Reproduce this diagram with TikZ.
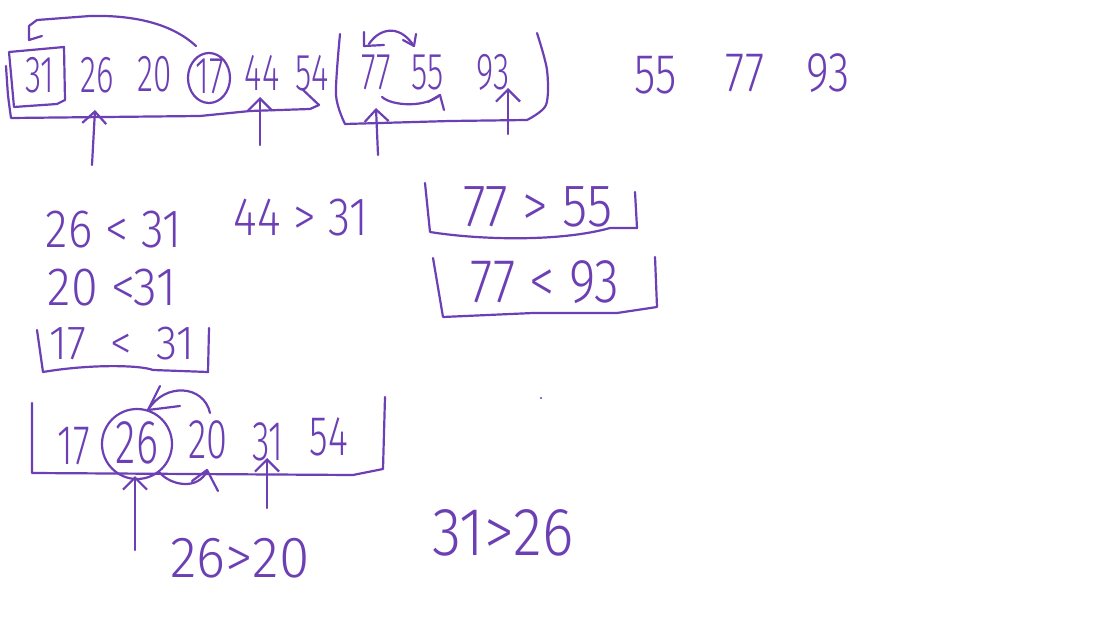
\documentclass[tikz,border=0pt]{standalone}
\usepackage{fontspec}
\setmainfont{Fira Sans Light}
\usetikzlibrary{arrows.meta}
\definecolor{ink}{RGB}{108,64,180}
\newcommand\hw[2][0.78]{\scalebox{#1}[1]{#2}}
\begin{document}
\begin{tikzpicture}[x=0.5pt,y=-0.5pt,
  hand/.style={draw=ink, line width=1.1pt, line cap=round, line join=round},
  up/.style={hand, -{Straight Barb[length=6pt,width=12pt]}},
  num/.style={text=ink, inner sep=0pt, font=\fontsize{26}{26}\selectfont},
  expr/.style={text=ink, inner sep=0pt, font=\fontsize{27}{27}\selectfont}]
\fill[white] (0,0) rectangle (1112,620);
\useasboundingbox (0,0) rectangle (1112,620);

% ---------- top row ----------
\node[num] (n31) at (40,75) {\hw[0.64]{31}};
\node[num] (n26) at (97,75) {\hw[0.64]{26}};
\node[num] (n20) at (155,74) {\hw[0.64]{20}};
\node[num] (n17) at (210,76) {\hw[0.64]{17}};
\node[num] (n44) at (262,73) {\hw[0.64]{44}};
\node[num] (n54) at (312,73) {\hw[0.64]{54}};
\node[num] (n77) at (376,72) {\hw[0.64]{77}};
\node[num] (n55) at (428,72) {\hw[0.64]{55}};
\node[num] (n93) at (493,72) {\hw[0.64]{93}};

% box round 31
\draw[hand] (9,52) -- (64,47) -- (65,100) -- (57,104) -- (14,107) -- (9,52);
% circle round 17
\draw[hand] (209,78) ellipse [x radius=10.5pt, y radius=12.5pt];
% arrow from 17 to 31
\draw[hand] (196,46) .. controls (170,22) and (130,15) .. (90,16) -- (37,20) -- (29,26) -- (29,40) -- (42,36);
% left bracket
\draw[hand] plot[smooth, tension=0.4] coordinates {(6,66) (8,95) (11,118)}
  -- (200,116) -- (250,111) -- (310,109) -- (319,105) -- (302,89);
% right bracket
\draw[hand] plot[smooth, tension=0.5] coordinates {(340,34) (336,95) (345,124)}
  -- (450,121) -- (527,120) plot[smooth, tension=0.5] coordinates {(527,120) (546,105) (547,70) (537,33)};
% swap arrow above 77 55
\draw[hand] (369,44) .. controls (378,30) and (398,22) .. (414,46);
\draw[hand] (364,32) -- (364,46) -- (384,45);
\draw[hand] (403,40) -- (414,46) -- (416,34);
% swap arrow below 55
\draw[hand] (382,97) .. controls (392,106) and (425,108) .. (440,95);
\draw[hand] (428,102) -- (440,95) -- (444,110);

% pointer arrows, top
\coordinate (a1s) at (92,165); \coordinate (a1e) at (95,110);
\coordinate (a2s) at (260,145); \coordinate (a2e) at (260,97);
\coordinate (a3s) at (378,155); \coordinate (a3e) at (376,108);
\coordinate (a4s) at (508,134); \coordinate (a4e) at (508,88);
\draw[up] (a1s) -- (a1e);
\draw[up] (a2s) -- (a2e);
\draw[up] (a3s) -- (a3e);
\draw[up] (a4s) -- (a4e);

% sorted part
\node[num, font=\fontsize{28}{28}\selectfont] (s55) at (656,75) {\hw[0.78]{55}};
\node[num, font=\fontsize{28}{28}\selectfont] (s77) at (745,73) {\hw[0.78]{77}};
\node[num, font=\fontsize{28}{28}\selectfont] (s93) at (828,73) {\hw[0.78]{93}};

% ---------- comparisons ----------
\node[expr] (c1) at (114,230) {\hw[0.86]{26 < 31}};
\node[expr] (c2) at (301,218) {\hw[0.84]{44 > 31}};
\node[expr] (c3) at (112,288) {\hw[0.9]{20 <31}};
\node[expr, font=\fontsize{24}{24}\selectfont] (c4) at (122,344) {\hw[0.9]{17 \ < \ 31}};
\draw[hand] (37,330) -- (43,372) .. controls (90,364) and (140,365) .. (153,370) -- (208,372) -- (209,328);

\node[expr, font=\fontsize{30}{30}\selectfont] (c5) at (538,207) {\hw[0.86]{77 > 55}};
\draw[hand] (425,183) -- (430,232) .. controls (480,240) and (560,242) .. (610,228) -- (637,228) -- (635,192);
\node[expr, font=\fontsize{31}{31}\selectfont] (c6) at (545,282) {\hw[0.82]{77 < 93}};
\draw[hand] (433,258) -- (443,317) -- (533,313) -- (617,313) -- (657,307) -- (655,257);

% ---------- bottom row ----------
\node[num, font=\fontsize{28}{28}\selectfont] (b17) at (74,446) {\hw[0.68]{17}};
\node[num, font=\fontsize{31}{31}\selectfont] (b26) at (137,443) {\hw[0.68]{26}};
\node[num, font=\fontsize{28}{28}\selectfont] (b20) at (208,440) {\hw[0.68]{20}};
\node[num, font=\fontsize{28}{28}\selectfont] (b31) at (268,442) {\hw[0.64]{31}};
\node[num, font=\fontsize{28}{28}\selectfont] (b54) at (329,437) {\hw[0.68]{54}};
\draw[hand] (137,444) circle [radius=17.5pt];
\draw[hand] (32,403) -- (32,473) -- (353,475) -- (383,469) -- (385,397);
% curved arrow above 26 20
\draw[hand] (210,413) .. controls (204,385) and (165,382) .. (148,410);
\draw[hand] (160,386) -- (148,410) -- (180,406);
% curved arrow below
\draw[hand] (160,473) .. controls (172,486) and (198,490) .. (207,471);
\draw[hand] (192,481) -- (207,470) -- (218,491);
% pointer arrows, bottom
\coordinate (b1s) at (135,550); \coordinate (b1e) at (135,476);
\coordinate (b2s) at (267,508); \coordinate (b2e) at (267,458);
\draw[up] (b1s) -- (b1e);
\draw[up] (b2s) -- (b2e);

\node[expr, font=\fontsize{29}{29}\selectfont] (c7) at (240,558) {\hw[0.95]{26>20}};
\node[expr, font=\fontsize{34}{34}\selectfont] (c8) at (503,533) {\hw[0.88]{31>26}};

% stray dot
\fill[ink] (541,398) circle [radius=0.6pt];
\end{tikzpicture}
\end{document}
